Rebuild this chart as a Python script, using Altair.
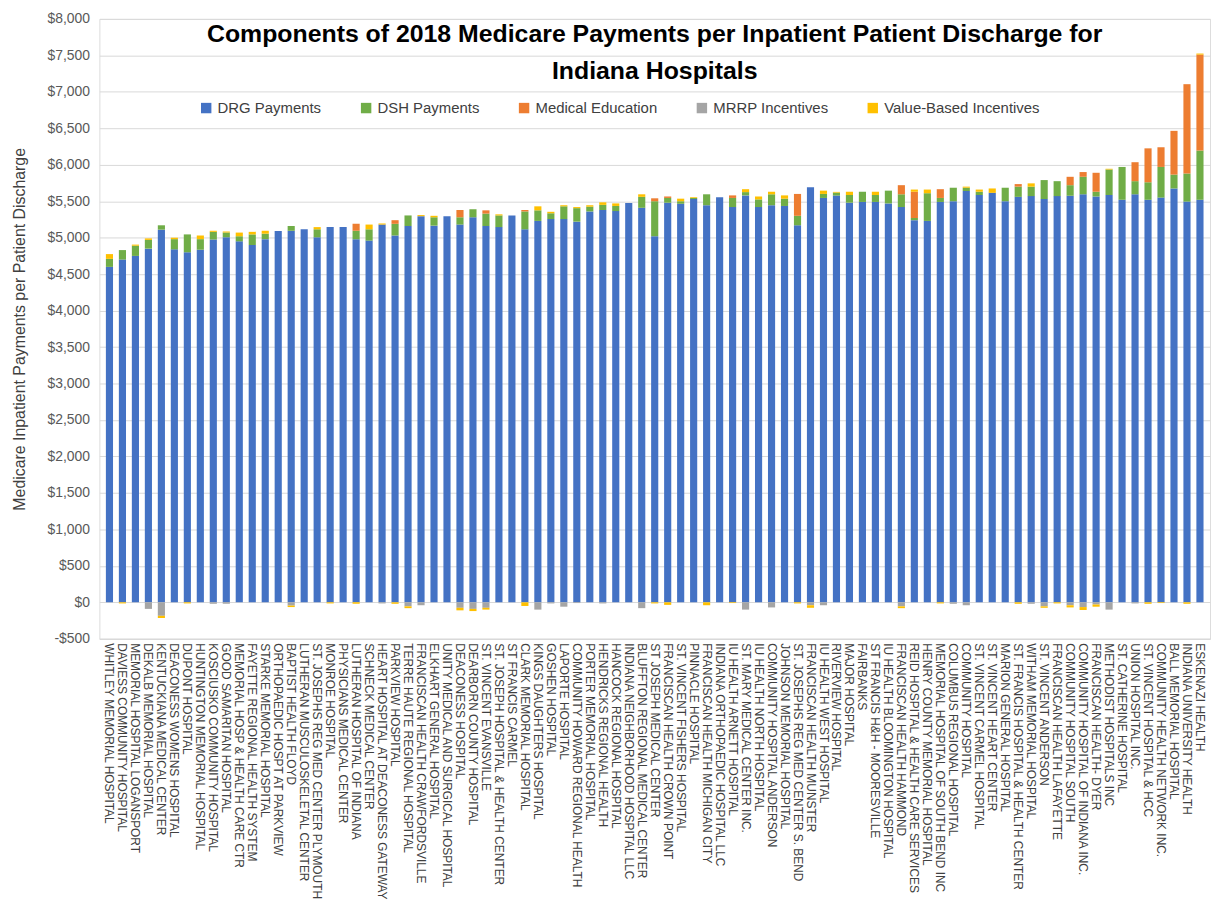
import altair as alt
import pandas as pd

hospitals = [
    "WHITLEY MEMORIAL HOSPITAL", "DAVIESS COMMUNITY HOSPITAL", "MEMORIAL HOSPITAL LOGANSPORT",
    "DEKALB MEMORIAL HOSPITAL", "KENTUCKIANA MEDICAL CENTER", "DEACONESS WOMENS HOSPITAL",
    "DUPONT HOSPITAL", "HUNTINGTON MEMORIAL HOSPITAL", "KOSCIUSKO COMMUNITY HOSPITAL",
    "GOOD SAMARITAN HOSPITAL", "MEMORIAL HOSP & HEALTH CARE CTR", "FAYETTE REGIONAL HEALTH SYSTEM",
    "STARKE MEMORIAL HOSPITAL", "ORTHOPAEDIC HOSPT AT PARKVIEW", "BAPTIST HEALTH FLOYD",
    "LUTHERAN MUSCULOSKELETAL CENTER", "ST. JOSEPHS REG MED CENTER PLYMOUTH", "MONROE HOSPITAL",
    "PHYSICIANS MEDICAL CENTER", "LUTHERAN HOSPITAL OF INDIANA", "SCHNECK MEDICAL CENTER",
    "HEART HOSPITAL AT DEACONESS GATEWAY", "PARKVIEW HOSPITAL", "TERRE HAUTE REGIONAL HOSPITAL",
    "FRANCISCAN HEALTH CRAWFORDSVILLE", "ELKHART GENERAL HOSPITAL", "UNITY MEDICAL AND SURGICAL HOSPITAL",
    "DEACONESS HOSPITAL", "DEARBORN COUNTY HOSPITAL", "ST. VINCENT EVANSVILLE",
    "ST. JOSEPH HOSPITAL & HEALTH CENTER", "ST FRANCIS CARMEL", "CLARK MEMORIAL HOSPITAL",
    "KINGS DAUGHTERS HOSPITAL", "GOSHEN HOSPITAL", "LAPORTE HOSPITAL",
    "COMMUNITY HOWARD REGIONAL HEALTH", "PORTER MEMORIAL HOSPITAL", "HENDRICKS REGIONAL HEALTH",
    "HANCOCK REGIONAL HOSPITAL", "INDIANA NEIGHBORHOOD HOSPITAL LLC", "BLUFFTON REGIONAL MEDICAL CENTER",
    "ST JOSEPH MEDICAL CENTER", "FRANCISCAN HEALTH CROWN POINT", "ST. VINCENT FISHERS HOSPITAL",
    "PINNACLE HOSPITAL", "FRANCISCAN HEALTH MICHIGAN CITY", "INDIANA ORTHOPAEDIC HOSPITAL LLC",
    "IU HEALTH ARNETT HOSPITAL", "ST. MARY MEDICAL CENTER  INC.", "IU HEALTH NORTH HOSPITAL",
    "COMMUNITY HOSPITAL ANDERSON", "JOHNSON MEMORIAL HOSPITAL", "ST. JOSEPHS REG MED CENTER S. BEND",
    "FRANCISCAN HEALTH MUNSTER", "IU HEALTH WEST HOSPITAL", "RIVERVIEW HOSPITAL",
    "MAJOR HOSPITAL", "FAIRBANKS", "ST FRANCIS H&H - MOORESVILLE",
    "IU HEALTH BLOOMINGTON HOSPITAL", "FRANCISCAN HEALTH HAMMOND", "REID HOSPITAL & HEALTH CARE SERVICES",
    "HENRY COUNTY MEMORIAL HOSPITAL", "MEMORIAL HOSPITAL OF SOUTH BEND  INC", "COLUMBUS REGIONAL HOSPITAL",
    "COMMUNITY HOSPITAL", "ST. VINCENT CARMEL HOSPITAL", "ST. VINCENT HEART CENTER",
    "MARION GENERAL HOSPITAL", "ST. FRANCIS HOSPITAL & HEALTH CENTER", "WITHAM MEMORIAL HOSPITAL",
    "ST. VINCENT ANDERSON", "FRANCISCAN HEALTH LAFAYETTE", "COMMUNITY HOSPITAL SOUTH",
    "COMMUNITY HOSPITAL OF INDIANA  INC.", "FRANCISCAN HEALTH- DYER", "METHODIST HOSPITALS  INC",
    "ST. CATHERINE HOSPITAL", "UNION HOSPITAL  INC.", "ST. VINCENT HOSPITAL & HCC",
    "COMMUNITY HEALTH NETWORK  INC.", "BALL MEMORIAL HOSPITAL", "INDIANA UNIVERSITY HEALTH",
    "ESKENAZI HEALTH",
]

drg = [4600, 4700, 4750, 4850, 5110, 4840, 4800, 4835, 4975, 5005,
       4950, 4900, 4980, 5090, 5095, 5115, 5005, 5145, 5145, 4980,
       4960, 5180, 5030, 5160, 5295, 5165, 5295, 5180, 5280, 5160,
       5145, 5305, 5115, 5230, 5255, 5255, 5220, 5360, 5380, 5365,
       5475, 5410, 5020, 5480, 5465, 5530, 5445, 5555, 5420, 5580,
       5420, 5445, 5435, 5170, 5690, 5545, 5578, 5480, 5490, 5490,
       5470, 5420, 5240, 5230, 5490, 5500, 5640, 5585, 5615, 5500,
       5560, 5570, 5530, 5570, 5575, 5595, 5565, 5585, 5520, 5595,
       5520, 5550, 5675, 5495, 5520]

dsh = [110, 130, 140, 120, 60, 140, 245, 145, 105, 65,
       70, 145, 75, 0, 65, 0, 110, 0, 0, 115,
       155, 0, 160, 145, 0, 115, 0, 100, 110, 170,
       160, 0, 245, 145, 80, 175, 185, 65, 70, 70,
       0, 150, 480, 65, 35, 15, 150, 0, 125, 45,
       105, 150, 100, 130, 0, 55, 40, 105, 140, 95,
       175, 175, 30, 380, 55, 185, 45, 45, 0, 185,
       140, 130, 260, 205, 145, 240, 65, 350, 450, 180,
       240, 420, 190, 385, 675]

med_ed = [0, 0, 0, 0, 0, 0, 0, 0, 0, 0,
          0, 0, 0, 0, 0, 0, 0, 0, 0, 95,
          0, 0, 50, 0, 0, 0, 0, 100, 0, 45,
          0, 0, 20, 0, 0, 0, 0, 0, 0, 0,
          0, 0, 40, 20, 0, 0, 0, 0, 35, 0,
          0, 0, 0, 300, 0, 0, 0, 0, 0, 0,
          0, 125, 360, 0, 120, 0, 0, 0, 0, 0,
          35, 0, 0, 0, 115, 65, 260, 0, 0, 260,
          465, 270, 600, 1225, 1315]

mrrp = [0, 0, 0, -90, -185, 0, 0, 0, -20, -20,
        0, 0, 0, 0, -45, 0, 0, 0, 0, 0,
        0, -15, 0, -55, -40, 0, 0, -75, -90, -75,
        0, 0, 0, -100, -15, -60, -10, 0, -15, 0,
        0, -80, 0, 0, 0, 0, 0, 0, 0, -100,
        0, -70, 0, 0, -40, -40, 0, 0, 0, 0,
        0, -55, 0, 0, 0, -20, -40, 0, 0, 0,
        0, -20, -55, 0, -40, -65, -30, -100, 0, -15,
        0, 0, 0, 0, 0]

vbi = [65, -15, 15, 20, -30, 20, -15, 50, 15, 15,
       50, 35, 40, 0, -20, 0, 30, -15, 0, -20,
       65, 15, -20, -25, 15, 20, 0, -35, -30, -25,
       15, 0, -50, 55, 20, 15, 15, 20, 35, 35,
       0, 35, -15, -35, 35, 10, -40, 0, -10, 40,
       40, 35, 45, -15, -35, 45, 10, 45, 0, 45,
       0, -25, 30, 50, -15, 0, 15, 30, 60, 0,
       -20, 45, -20, -15, -30, -40, -30, 10, 0, 0,
       -20, -10, 0, -20, 15]

components = ["DRG Payments", "DSH Payments", "Medical Education", "MRRP Incentives", "Value-Based Incentives"]
colors = ["#4472C4", "#70AD47", "#ED7D31", "#A5A5A5", "#FFC000"]

rows = []
for i, h in enumerate(hospitals):
    for k, (comp, series) in enumerate(zip(components, [drg, dsh, med_ed, mrrp, vbi])):
        v = series[i]
        if v != 0:
            rows.append({"Hospital": h, "Component": comp, "Value": v, "ord": k})
df = pd.DataFrame(rows)

font = "Liberation Sans"

chart = alt.Chart(df).mark_bar().encode(
    x=alt.X("Hospital:N", sort=hospitals,
            scale=alt.Scale(paddingInner=0.45, paddingOuter=0.5),
            axis=alt.Axis(title=None, labelAngle=90, labelFontSize=12, labelColor="#404040",
                          labelFont=font, ticks=False, domainColor="#D9D9D9", labelPadding=4,
                          labelLimit=300, labelOverlap=False, grid=False)),
    y=alt.Y("Value:Q",
            scale=alt.Scale(domain=[-500, 8000], nice=False),
            axis=alt.Axis(title="Medicare Inpatient Payments per Patient Discharge",
                          values=list(range(-500, 8001, 500)),
                          labelExpr="datum.value < 0 ? '-$' + format(-datum.value, ',') : '$' + format(datum.value, ',')",
                          labelFontSize=14, labelColor="#595959", labelFont=font,
                          titleFontSize=16, titleColor="#404040", titleFont=font, titleFontWeight="normal",
                          titlePadding=20, labelPadding=10, ticks=False, domain=False,
                          gridColor="#D9D9D9", gridWidth=1)),
    color=alt.Color("Component:N",
                    scale=alt.Scale(domain=components, range=colors),
                    legend=alt.Legend(title=None, orient="none", direction="horizontal",
                                      legendX=100, legendY=82, labelFontSize=15, labelFont=font,
                                      labelColor="#404040", symbolType="square", symbolSize=110,
                                      symbolStrokeWidth=0, columnPadding=37, columns=5)),
    order=alt.Order("ord:Q", sort="ascending"),
).properties(
    width=1118,
    height=624,
    autosize=alt.AutoSizeParams(type="none"),
    padding={"left": 92, "top": 8, "right": 3, "bottom": 265},
    title=alt.Title(
        ["Components of 2018 Medicare Payments per Inpatient Patient Discharge for", "Indiana Hospitals"],
        fontSize=25, fontWeight="bold", font=font, color="#000000", anchor="middle",
        lineHeight=37, offset=-72,
    ),
).configure_view(stroke=None).configure(background="white")

chart.save("out.html", embed_options={"renderer": "svg", "actions": False})
